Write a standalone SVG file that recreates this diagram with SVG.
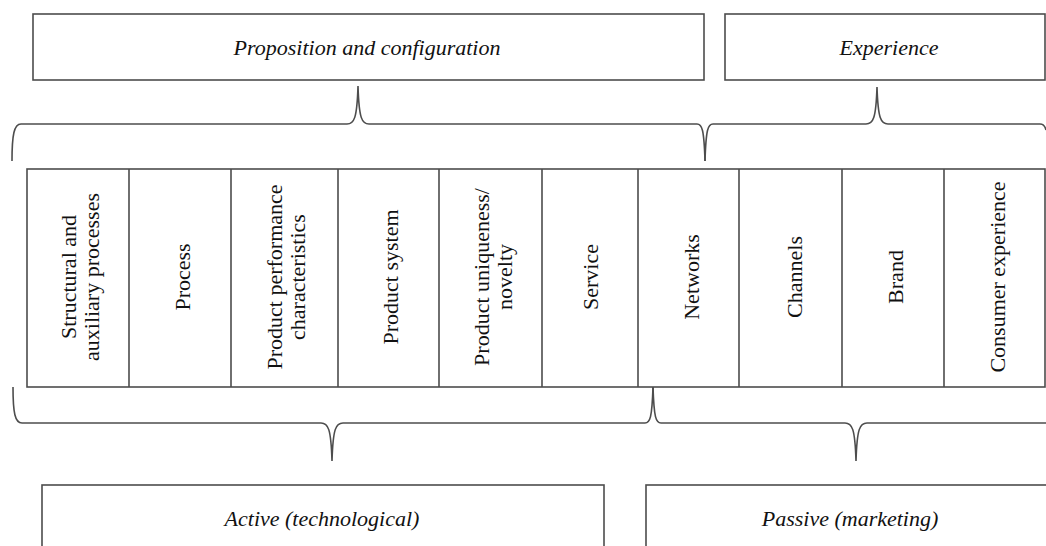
<svg xmlns="http://www.w3.org/2000/svg" width="1046" height="546" viewBox="0 0 1046 546">
<style>
.box{fill:#fff;stroke:#4d4d4d;stroke-width:1.6}
.ln{fill:none;stroke:#4d4d4d;stroke-width:1.6}
.ti{font-family:"Liberation Serif",serif;font-style:italic;font-size:22px;fill:#111;text-anchor:middle}
.tv{font-family:"Liberation Serif",serif;font-size:22px;fill:#111;text-anchor:middle}
</style>
<rect width="1046" height="546" fill="#fff"/>
<g id="proposition">
<rect class="box" x="33" y="14" width="671" height="66"/>
<text class="ti" x="367" y="55">Proposition and configuration</text>
</g>
<g id="experience">
<rect class="box" x="725" y="14" width="320" height="66"/>
<text class="ti" x="889" y="55">Experience</text>
</g>
<g id="table">
<rect class="box" x="27" y="169" width="1018" height="218"/>
<path class="ln" d="M129,169V387M231,169V387M338,169V387M439,169V387M542,169V387M638,169V387M739,169V387M842,169V387M944,169V387"/>
</g>
<g id="col-structural">
<text class="tv" transform="translate(76,277) rotate(-90)">Structural and</text>
<text class="tv" transform="translate(99,277) rotate(-90)">auxiliary processes</text>
</g>
<g id="col-process"><text class="tv" transform="translate(190,277) rotate(-90)">Process</text></g>
<g id="col-performance">
<text class="tv" transform="translate(282,277) rotate(-90)">Product performance</text>
<text class="tv" transform="translate(305,277) rotate(-90)">characteristics</text>
</g>
<g id="col-system"><text class="tv" transform="translate(398,277) rotate(-90)">Product system</text></g>
<g id="col-uniqueness">
<text class="tv" transform="translate(489,277) rotate(-90)">Product uniqueness/</text>
<text class="tv" transform="translate(512,277) rotate(-90)">novelty</text>
</g>
<g id="col-service"><text class="tv" transform="translate(598,277) rotate(-90)">Service</text></g>
<g id="col-networks"><text class="tv" transform="translate(699,277) rotate(-90)">Networks</text></g>
<g id="col-channels"><text class="tv" transform="translate(802,277) rotate(-90)">Channels</text></g>
<g id="col-brand"><text class="tv" transform="translate(903,277) rotate(-90)">Brand</text></g>
<g id="col-consumer"><text class="tv" transform="translate(1005,277) rotate(-90)">Consumer experience</text></g>
<g id="active">
<rect class="box" x="42" y="485" width="562" height="80"/>
<text class="ti" x="322" y="526">Active (technological)</text>
</g>
<g id="passive">
<rect class="box" x="646" y="485" width="420" height="80"/>
<text class="ti" x="850" y="526">Passive (marketing)</text>
</g>
<g id="connectors">
<path class="ln" d="M12,161 C12,135 14,124 21,124 L347,124 C354,124 357,119 358,86 C359,119 362,124 369,124 L697,124 C702,124 704,129 705,161"/>
<path class="ln" d="M705,161 C706,129 708,124 713,124 L866,124 C873,124 876,119 877,87 C878,119 881,124 888,124 L1040,124 C1043,124 1045,126 1046,130"/>
<path class="ln" d="M13,387 C13,413 15,423 22,423 L321,423 C328,423 331,428 332,461 C333,428 336,423 343,423 L645,423 C650,423 652,418 653,387"/>
<path class="ln" d="M653,387 C654,418 656,423 661,423 L845,423 C852,423 855,428 856,461 C857,428 860,423 867,423 L1046,423"/>
</g>
</svg>
